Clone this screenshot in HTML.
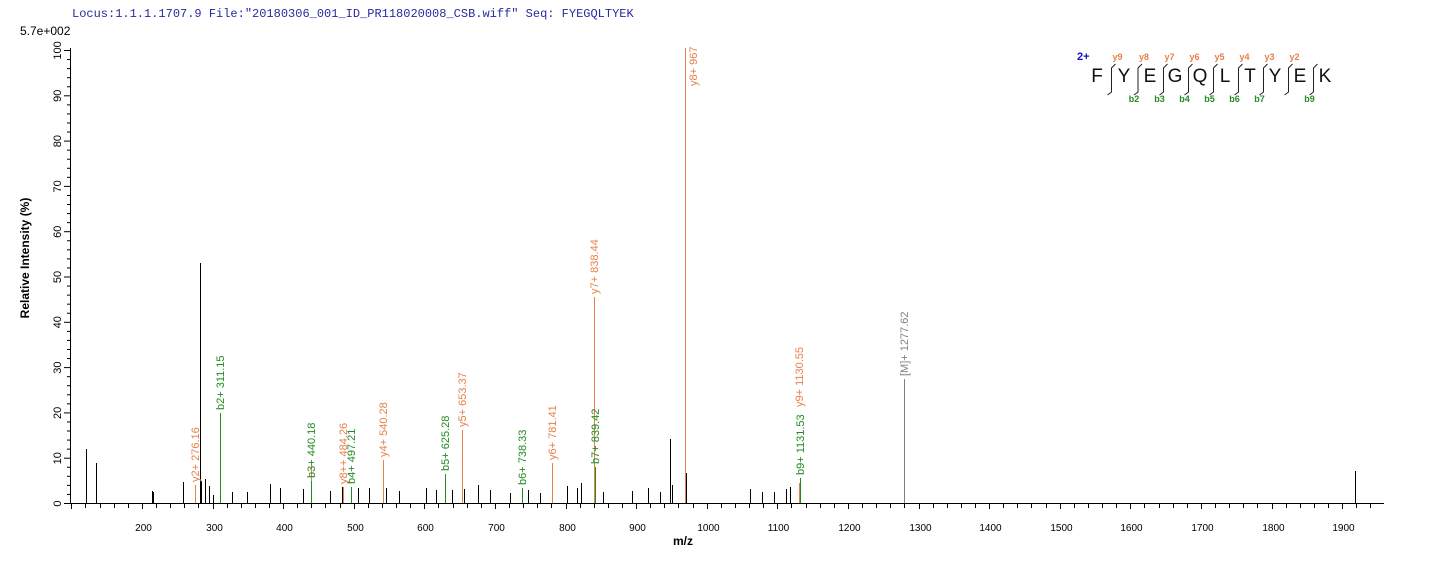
<!DOCTYPE html>
<html><head><meta charset="utf-8"><style>
html,body{margin:0;padding:0;background:#fff;}
svg{display:block;font-family:"Liberation Sans",Arial,sans-serif;}
</style></head><body>
<svg width="1436" height="562" viewBox="0 0 1436 562" xmlns="http://www.w3.org/2000/svg">
<defs><clipPath id="cp"><rect x="0" y="47" width="1436" height="515"/></clipPath></defs>
<text x="72" y="17" font-family="Liberation Mono,monospace" font-size="12" fill="#2a2aa0">Locus:1.1.1.1707.9 File:"20180306_001_ID_PR118020008_CSB.wiff"   Seq: FYEGQLTYEK</text>
<text x="20" y="35" font-size="12" fill="#000">5.7e+002</text>
<g stroke="#000" stroke-width="1">
<line x1="70.5" y1="48" x2="70.5" y2="504"/>
<line x1="70" y1="503.5" x2="1384" y2="503.5"/>
</g>
<g id="yt" stroke="#000"></g>
<g id="xt" stroke="#000"></g>
<g id="pk" clip-path="url(#cp)"></g>
<text transform="translate(29,258) rotate(-90)" text-anchor="middle" font-size="12" font-weight="bold">Relative   Intensity (%)</text>
<text x="683" y="545" text-anchor="middle" font-size="12" font-weight="bold">m/z</text>
<g font-size="11" font-weight="bold">
<text x="1077" y="60" fill="#1010c0">2+</text>
</g>
<g id="seq"></g>
<script>
var NS="http://www.w3.org/2000/svg";
function el(p,t,a,txt){var e=document.createElementNS(NS,t);for(var k in a)e.setAttribute(k,a[k]);if(txt!==undefined)e.textContent=txt;document.getElementById(p).appendChild(e);return e;}
for(var v=0;v<=100;v+=2){var y=503.5-v*4.53;var maj=v%10==0;
el('yt','line',{x1:maj?64:67,y1:y,x2:70,y2:y});
if(maj){el('yt','text',{transform:'translate(61,'+y+') rotate(-90)','text-anchor':'middle','font-size':'11',stroke:'none',fill:'#000'},String(v));}}
function xl(m){return 706.7+(m-1000)*0.706;}
for(var m=100;m<=1960;m+=20){var x=Math.round(xl(m))+.5;if(x<71||x>1384)continue;var maj=m%100==0;
el('xt','line',{x1:x,y1:503,x2:x,y2:maj?509:508});
if(maj&&m>=200)el('xt','text',{x:x+1,y:531,'text-anchor':'middle','font-size':'10',stroke:'none',fill:'#000'},String(m));}
var K='#000',O='#e8804a',G='#228b22',Gr='#808080';
var P=[[86,449],[96,463],[152,491],[153,492],[183,482],[200,263],[201,481],[205,479],[209,486],[213,495],[232,492],[247,492],[270,484],[280,488],[303,489],[330,491],[342,487],[358,488],[369,488],[386,488],[399,491],[426,488],[436,490],[445,475],[452,490],[464,489],[478,485],[490,490],[510,493],[528,490],[540,493],[567,486],[577,488],[581,483],[603,492],[632,491],[648,488],[660,492],[670,439],[672,485],[686,473],[750,489],[762,492],[774,492],[786,489],[790,487],[1355,471]];
P.forEach(function(p){el('pk','line',{x1:p[0]+.5,y1:p[1],x2:p[0]+.5,y2:503,stroke:K});});
var L=[[195,485,O,'y2+ 276.16'],[220,413,G,'b2+ 311.15'],[311,465,O,''],[311,481,G,'b3+ 440.18'],[343,487,O,'y8++ 484.26'],[351,487,G,'b4+ 497.21'],[383,460,O,'y4+ 540.28'],[445,474,G,'b5+ 625.28'],[462,430,O,'y5+ 653.37'],[522,488,G,'b6+ 738.33'],[552,463,O,'y6+ 781.41'],[594,297,O,'y7+ 838.44'],[595,467,G,'b7+ 839.42'],[685,48,O,'y8+ 967.49'],[799,483,O,'y9+ 1130.55'],[800,478,G,'b9+ 1131.53'],[904,379,Gr,'[M]+ 1277.62']];
L.forEach(function(p){el('pk','line',{x1:p[0]+.5,y1:p[1],x2:p[0]+.5,y2:503,stroke:p[2]});
if(p[3]){var ty=p[1]-3;var tx=p[0]+4;
if(p[3]=='y8+ 967.49'){tx=p[0]+12;ty=86;}
if(p[3]=='y9+ 1130.55'){ty=407;}
el('pk','text',{transform:'translate('+tx+','+ty+') rotate(-90)','font-size':'11',fill:p[2]},p[3]);}});
var s='FYEGQLTYEK'.split('');
var sx=[1097,1124,1150,1175,1200,1225,1250,1275,1300,1325];
s.forEach(function(c,i){el('seq','text',{x:sx[i],y:82,'font-size':'19',fill:'#111','text-anchor':'middle'},c);});
for(var i=1;i<10;i++){var bx=(sx[i-1]+sx[i])/2+1;
el('seq','path',{d:'M'+(bx+4)+' 64 L'+bx+' 68 L'+bx+' 92 L'+(bx-4)+' 95',stroke:'#222',fill:'none','stroke-width':'1'});
if(i<=8)el('seq','text',{x:bx+6,y:60,'font-size':'9','font-weight':'bold',fill:O,'text-anchor':'middle'},'y'+(10-i));
if(i>=2&&i!=8)el('seq','text',{x:bx-4,y:102,'font-size':'9','font-weight':'bold',fill:G,'text-anchor':'middle'},'b'+i);}
</script>
</svg>
</body></html>
